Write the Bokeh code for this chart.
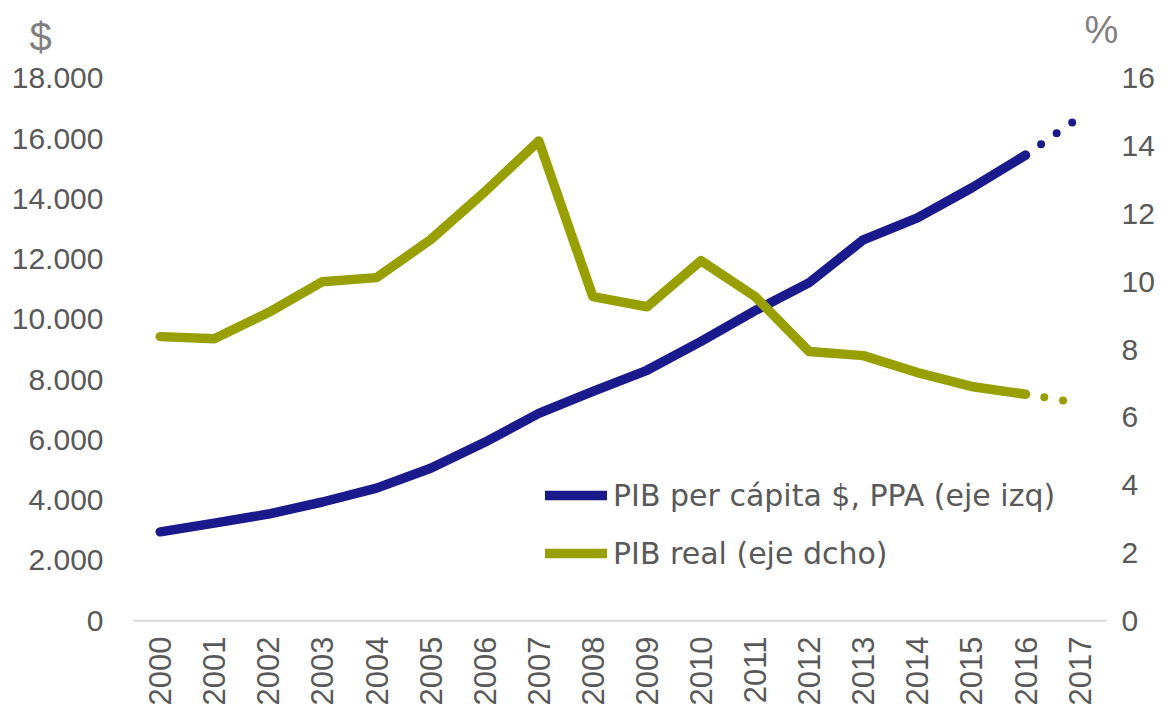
import math
from bokeh.plotting import figure
from bokeh.models import Range1d, LinearAxis, FixedTicker, Legend, LegendItem, Label
from bokeh.embed import file_html
from bokeh.resources import INLINE

# ---- data ----
years = [2000, 2001, 2002, 2003, 2004, 2005, 2006, 2007, 2008,
         2009, 2010, 2011, 2012, 2013, 2014, 2015, 2016, 2017]
pib_pc = [2950, 3240, 3540, 3940, 4400, 5060, 5920, 6880, 7610,
          8310, 9270, 10290, 11220, 12640, 13370, 14360, 15450, 16710]
pib_real = [8.38, 8.32, 9.09, 10.0, 10.12, 11.24, 12.65, 14.15, 9.56,
            9.26, 10.62, 9.56, 7.94, 7.82, 7.32, 6.91, 6.68, 6.42]
left_ticks = [0, 2000, 4000, 6000, 8000, 10000, 12000, 14000, 16000, 18000]
left_tick_labels = ["0", "2.000", "4.000", "6.000", "8.000", "10.000",
                    "12.000", "14.000", "16.000", "18.000"]
right_ticks = [0, 2, 4, 6, 8, 10, 12, 14, 16]
label_pc = "PIB per cápita $, PPA (eje izq)"
label_real = "PIB real (eje dcho)"
unit_left = "$"
unit_right = "%"

# ---- layout (canvas pixels) ----
W, H = 1157, 708
X_FIRST, X_LAST = 160, 1081      # canvas x of first / last category
Y_ZERO, Y_TOP = 622, 78          # canvas y of axis zero / top tick
L_MAX, R_MAX = left_ticks[-1], right_ticks[-1]

px_per_year = (X_LAST - X_FIRST) / (years[-1] - years[0])
x_start = years[0] - X_FIRST / px_per_year
x_end = years[-1] + (W - X_LAST) / px_per_year
span = Y_ZERO - Y_TOP
y_start = -(H - Y_ZERO) * L_MAX / span
y_end = L_MAX + Y_TOP * L_MAX / span
r_start = -(H - Y_ZERO) * R_MAX / span
r_end = R_MAX + Y_TOP * R_MAX / span

BLUE = "#1A1A8C"
GREEN = "#97A000"
TXT = "#595959"
UNIT = "#7F7F7F"
NUMFONT = "Liberation Sans"
LEGFONT = "DejaVu Sans"

p = figure(width=W, height=H, output_backend="svg", toolbar_location=None,
           x_range=Range1d(x_start, x_end), y_range=Range1d(y_start, y_end),
           min_border_left=0, min_border_right=0, min_border_top=0,
           min_border_bottom=0)
p.outline_line_color = None
p.xgrid.visible = False
p.ygrid.visible = False
p.background_fill_color = "white"
p.border_fill_color = "white"
p.extra_y_ranges = {"r": Range1d(r_start, r_end)}


def style_axis(ax, size, standoff):
    ax.major_label_text_font = NUMFONT
    ax.major_label_text_font_size = size
    ax.major_label_text_color = TXT
    ax.major_label_standoff = standoff
    ax.major_tick_line_color = None
    ax.minor_tick_line_color = None
    ax.major_tick_out = 0
    ax.major_tick_in = 0
    ax.minor_tick_out = 0
    ax.minor_tick_in = 0
    ax.axis_label_standoff = 0
    ax.axis_line_color = None


# x axis (labels drawn up into the canvas, baseline drawn separately)
xa = p.xaxis[0]
xa.ticker = FixedTicker(ticks=years)
xa.major_label_orientation = math.pi / 2
style_axis(xa, "31px", -70)

# left axis
ya = p.yaxis[0]
ya.ticker = FixedTicker(ticks=left_ticks)
ya.major_label_overrides = {t: l for t, l in zip(left_ticks, left_tick_labels)}
style_axis(ya, "30px", -103)

# right axis
ra = LinearAxis(y_range_name="r", ticker=FixedTicker(ticks=right_ticks))
style_axis(ra, "30px", -34)
p.add_layout(ra, "right")

# category baseline
p.line(x=[years[0] - 0.5, years[-1] + 0.5], y=[0, 0], line_color="#D9D9D9",
       line_width=2)

# lines
r_pc = p.line(years[:-1], pib_pc[:-1], line_color=BLUE, line_width=9.5,
              line_cap="round", line_join="round")
p.line(years[-2:], pib_pc[-2:], line_color=BLUE, line_width=8,
       line_cap="round", line_dash="0 19")
r_real = p.line(years[:-1], pib_real[:-1], line_color=GREEN, line_width=9.5,
                line_cap="round", line_join="round", y_range_name="r")
p.line(years[-2:], pib_real[-2:], line_color=GREEN, line_width=8,
       line_cap="round", line_dash="0 19", y_range_name="r")

legend = Legend(items=[LegendItem(label=label_pc, renderers=[r_pc]),
                       LegendItem(label=label_real, renderers=[r_real])],
                location=(545, 135), padding=0, margin=0, spacing=22,
                glyph_width=62, glyph_height=36, label_height=36,
                label_standoff=6, border_line_color=None,
                background_fill_alpha=0,
                label_text_font=LEGFONT, label_text_font_size="30px",
                label_text_color=TXT)
p.add_layout(legend, "center")

p.add_layout(Label(x=40, y=H - 38, x_units="screen", y_units="screen",
                   text=unit_left, text_align="center", text_baseline="middle",
                   text_font=NUMFONT, text_font_size="40px", text_color=UNIT))
p.add_layout(Label(x=1101, y=H - 31, x_units="screen", y_units="screen",
                   text=unit_right, text_align="center", text_baseline="middle",
                   text_font=NUMFONT, text_font_size="38px", text_color=UNIT))

open("out.html", "w").write(file_html(p, INLINE))
